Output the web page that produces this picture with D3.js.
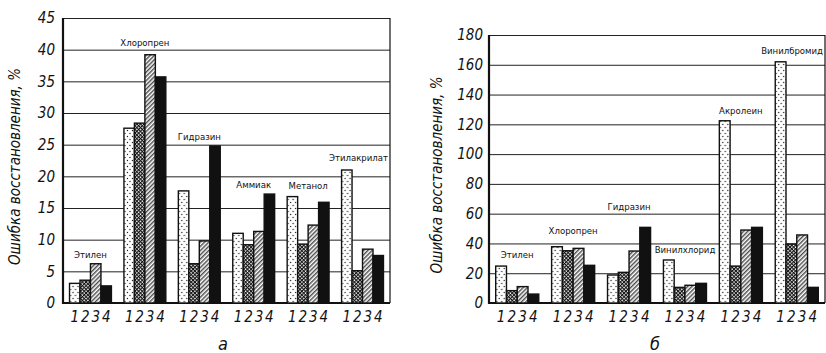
<!DOCTYPE html>
<html>
<head>
<meta charset="utf-8">
<script src="https://cdn.jsdelivr.net/npm/d3@7"></script>
<style>
  body { margin: 0; background: #fff; }
  svg { display: block; }
  .tick text, .xnum, .ytitle, .panel { font-family: "Liberation Sans Narrow", "DejaVu Sans Condensed", sans-serif; font-style: italic; fill: #111; }
  .glabel { font-family: "DejaVu Sans Condensed", "Liberation Sans Narrow", sans-serif; font-size: 9.5px; fill: #111; }
</style>
</head>
<body>
<svg id="chart" width="826" height="353"></svg>
<script>
const seriesKeys = ["1", "2", "3", "4"];

// panel a
const groupsA = ["Этилен", "Хлоропрен", "Гидразин", "Аммиак", "Метанол", "Этилакрилат"];
const a1 = [3.1, 27.6, 17.7, 11.0, 16.8, 21.0];
const a2 = [3.6, 28.4, 6.2, 9.2, 9.3, 5.1];
const a3 = [6.2, 39.2, 9.8, 11.3, 12.3, 8.5];
const a4 = [2.7, 35.7, 24.8, 17.2, 15.9, 7.5];
const ticksA = [0, 5, 10, 15, 20, 25, 30, 35, 40, 45];

// panel б
const groupsB = ["Этилен", "Хлоропрен", "Гидразин", "Винилхлорид", "Акролеин", "Винилбромид"];
const b1 = [24.8, 37.8, 18.8, 28.9, 122.4, 162];
const b2 = [8.3, 35.1, 20.6, 10.5, 24.8, 39.6];
const b3 = [11.0, 36.7, 34.9, 11.9, 49.0, 45.7];
const b4 = [6.0, 25.3, 50.8, 13.2, 50.8, 10.5];
const ticksB = [0, 20, 40, 60, 80, 100, 120, 140, 160, 180];

const yTitle = "Ошибка восстановления, %";

const svg = d3.select("#chart");
const defs = svg.append("defs");

// fills for the four methods
let p = defs.append("pattern").attr("id", "dots").attr("patternUnits", "userSpaceOnUse")
  .attr("width", 5).attr("height", 6);
p.append("rect").attr("width", 5).attr("height", 6).attr("fill", "#fff");
p.append("circle").attr("cx", 1).attr("cy", 1.5).attr("r", 0.65).attr("fill", "#111");
p.append("circle").attr("cx", 3.5).attr("cy", 4.5).attr("r", 0.65).attr("fill", "#111");

p = defs.append("pattern").attr("id", "cross").attr("patternUnits", "userSpaceOnUse")
  .attr("width", 2.6).attr("height", 2.6).attr("patternTransform", "rotate(45)");
p.append("rect").attr("width", 2.6).attr("height", 2.6).attr("fill", "#fff");
p.append("rect").attr("width", 2.6).attr("height", 1.1).attr("fill", "#111");
p.append("rect").attr("width", 1.1).attr("height", 2.6).attr("fill", "#111");

p = defs.append("pattern").attr("id", "diag").attr("patternUnits", "userSpaceOnUse")
  .attr("width", 3).attr("height", 10).attr("patternTransform", "rotate(45)");
p.append("rect").attr("width", 3).attr("height", 10).attr("fill", "#fff");
p.append("line").attr("x1", 0.8).attr("x2", 0.8).attr("y1", 0).attr("y2", 10)
  .attr("stroke", "#111").attr("stroke-width", 1.1);

const fills = ["url(#dots)", "url(#cross)", "url(#diag)", "#111"];

function drawPanel(opt) {
  const { groups, series, ticks, x0, x1, yTop, yBottom, labelDy, tickPad, titleX, letter, letterX } = opt;
  const g = svg.append("g");

  const y = d3.scaleLinear().domain([0, ticks[ticks.length - 1]]).range([yBottom, yTop]);
  const x = d3.scaleBand().domain(groups).range([x0, x1]).paddingInner(0.23).paddingOuter(0.12);
  const xs = d3.scaleBand().domain(seriesKeys).range([0, x.bandwidth()]);

  // grid + tick labels
  const ax = g.append("g")
    .attr("transform", `translate(${x0},0)`)
    .call(d3.axisLeft(y).tickValues(ticks).tickSize(-(x1 - x0)).tickPadding(tickPad));
  ax.select(".domain").remove();
  ax.selectAll(".tick line").attr("stroke", "#222").attr("stroke-width", 1);
  ax.selectAll(".tick text").attr("font-size", 15);

  // frame
  g.append("line").attr("x1", x1).attr("x2", x1).attr("y1", yTop).attr("y2", yBottom)
    .attr("stroke", "#111").attr("stroke-width", 1.2);
  g.append("line").attr("x1", x0).attr("x2", x0).attr("y1", yTop).attr("y2", yBottom + 1)
    .attr("stroke", "#111").attr("stroke-width", 2.2);
  g.append("line").attr("x1", x0).attr("x2", x1).attr("y1", yBottom).attr("y2", yBottom)
    .attr("stroke", "#111").attr("stroke-width", 2.2);

  // bars
  const rows = groups.map((name, i) => ({ name, vals: series.map(s => s[i]) }));
  const grp = g.selectAll(".grp").data(rows).join("g")
    .attr("transform", d => `translate(${x(d.name)},0)`);

  grp.selectAll("rect").data(d => d.vals).join("rect")
    .attr("x", (d, i) => xs(seriesKeys[i]))
    .attr("y", d => y(d))
    .attr("width", xs.bandwidth())
    .attr("height", d => yBottom - y(d))
    .attr("fill", (d, i) => fills[i])
    .attr("stroke", "#111")
    .attr("stroke-width", 1.4);

  // group names, kept inside the frame
  grp.append("text").attr("class", "glabel")
    .attr("x", x.bandwidth() / 2)
    .attr("y", (d, i) => y(d3.max(d.vals)) - labelDy[i])
    .attr("text-anchor", "middle")
    .text(d => d.name)
    .each(function(d) {
      const w = this.getComputedTextLength();
      const right = x(d.name) + x.bandwidth() / 2 + w / 2;
      if (right > x1 - 2) d3.select(this).attr("x", x.bandwidth() / 2 - (right - x1 + 2));
    });

  // method numbers under bars
  grp.selectAll(".xnum").data(seriesKeys).join("text").attr("class", "xnum")
    .attr("x", d => xs(d) + xs.bandwidth() / 2)
    .attr("y", yBottom + 19)
    .attr("text-anchor", "middle")
    .attr("font-size", 15)
    .text(d => d);

  // axis title
  g.append("text").attr("class", "ytitle")
    .attr("transform", `translate(${titleX},${(yTop + yBottom) / 2 + 6}) rotate(-90)`)
    .attr("text-anchor", "middle")
    .attr("font-size", 15)
    .text(yTitle);

  g.append("text").attr("class", "panel")
    .attr("x", letterX).attr("y", 350)
    .attr("text-anchor", "middle")
    .attr("font-size", 18)
    .text(letter);
}

drawPanel({
  groups: groupsA, series: [a1, a2, a3, a4], ticks: ticksA,
  x0: 63, x1: 390, yTop: 18, yBottom: 303,
  labelDy: [6, 9, 6, 6, 8, 9], tickPad: 8, titleX: 20,
  letter: "а", letterX: 223
});

drawPanel({
  groups: groupsB, series: [b1, b2, b3, b4], ticks: ticksB,
  x0: 489, x1: 825, yTop: 35, yBottom: 303,
  labelDy: [8, 13, 17, 7, 7, 8], tickPad: 6, titleX: 442,
  letter: "б", letterX: 655
});
</script>
</body>
</html>
